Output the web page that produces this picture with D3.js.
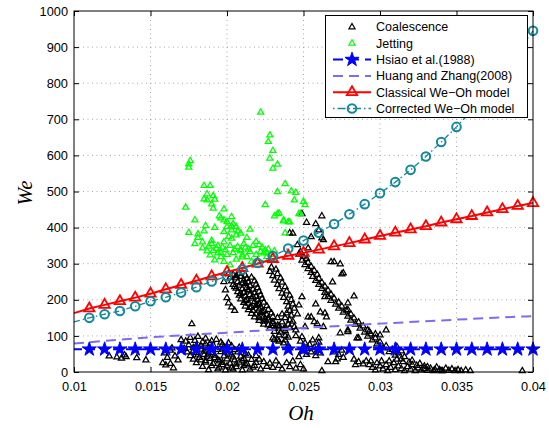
<!DOCTYPE html>
<html>
<head>
<meta charset="utf-8">
<script src="https://cdn.jsdelivr.net/npm/d3@7"></script>
<style>
  html, body { margin: 0; padding: 0; background: #fff; }
  svg { display: block; }
</style>
</head>
<body>
<svg id="chart" width="549" height="428"></svg>
<script>
// ---- axis ticks ----
const xTicks = [0.01, 0.015, 0.02, 0.025, 0.03, 0.035, 0.04];
const xTickLabels = ["0.01", "0.015", "0.02", "0.025", "0.03", "0.035", "0.04"];
const yTicks = [0, 100, 200, 300, 400, 500, 600, 700, 800, 900, 1000];
const yTickLabels = ["0", "100", "200", "300", "400", "500", "600", "700", "800", "900", "1000"];

// ---- model curves (sampled on the Oh grid) ----
const modelOh = [0.010, 0.011, 0.012, 0.013, 0.014, 0.015, 0.016, 0.017, 0.018, 0.019,
                 0.020, 0.021, 0.022, 0.023, 0.024, 0.025, 0.026, 0.027, 0.028, 0.029,
                 0.030, 0.031, 0.032, 0.033, 0.034, 0.035, 0.036, 0.037, 0.038, 0.039, 0.040];
const hsiaoWe = [63, 63, 63, 63, 63, 63, 63, 63, 63, 63,
                 63, 63, 63, 63, 63, 63, 63, 63, 63, 63,
                 63, 63, 63, 63, 63, 63, 63, 63, 63, 63, 63];
const classicalWe = [163, 176, 186, 196, 206, 217, 229, 241, 253, 265,
                     277, 288, 300, 313, 322, 330, 339, 348, 357, 367,
                     377, 386, 395, 404, 414, 423, 432, 442, 451, 460, 468];
const correctedWe = [139, 150, 160, 169, 182, 196, 207, 220, 235, 251,
                     266, 284, 302, 321, 342, 364, 386, 410, 437, 465,
                     495, 526, 560, 597, 637, 679, 725, 775, 828, 885, 945];
const huangOh = [0.010, 0.015, 0.020, 0.025, 0.030, 0.035, 0.040];
const huangWe = [79, 96, 109, 122, 134, 145, 155];

// ---- experimental points: [Oh, We] ----
const coalescence = [
  // main dense cluster below the classical curve
  [0.0201,272],[0.0204,270],[0.0208,273],[0.0212,268],
  [0.0202,262],[0.0206,260],[0.0209,264],[0.0213,259],[0.0216,262],
  [0.0203,252],[0.0207,250],[0.0211,254],[0.0214,249],[0.0218,252],
  [0.0204,242],[0.0208,240],[0.0212,244],[0.0215,239],[0.0219,243],
  [0.0206,232],[0.0210,230],[0.0213,234],[0.0217,229],[0.0220,233],
  [0.0207,222],[0.0211,220],[0.0214,224],[0.0218,219],[0.0221,223],
  [0.0208,212],[0.0212,210],[0.0215,214],[0.0219,209],[0.0222,213],
  [0.0209,202],[0.0213,200],[0.0216,204],[0.0220,199],[0.0223,203],
  [0.0211,192],[0.0214,190],[0.0218,194],[0.0221,189],[0.0224,193],
  [0.0212,182],[0.0216,180],[0.0219,184],[0.0222,179],[0.0226,183],
  [0.0214,172],[0.0217,170],[0.0221,174],[0.0224,169],[0.0227,173],
  [0.0216,162],[0.0219,160],[0.0222,164],[0.0226,159],[0.0229,163],
  [0.0218,152],[0.0221,150],[0.0224,154],[0.0227,149],[0.0230,153],
  [0.0221,142],[0.0224,140],[0.0227,144],[0.0230,139],
  [0.0224,132],[0.0227,130],[0.0230,134],[0.0233,129],
  [0.0228,122],[0.0231,120],[0.0234,124],[0.0237,119],
  [0.0231,112],[0.0235,110],[0.0238,114],
  [0.0234,102],[0.0238,100],
  [0.0199,227],[0.0200,205],[0.0201,191],[0.0203,180],[0.0198,250],[0.0205,170],
  [0.0206,266],[0.0210,246],[0.0214,228],[0.0217,208],[0.0220,186],[0.0223,167],
  [0.0225,146],[0.0229,128],[0.0205,236],[0.0209,217],[0.0212,197],[0.0215,178],
  // second band
  [0.0229,290],[0.0232,284],[0.0228,278],[0.0233,272],[0.0230,266],[0.0235,260],
  [0.0231,254],[0.0236,248],[0.0233,242],[0.0238,236],[0.0234,230],[0.0239,224],
  [0.0236,218],[0.0241,212],[0.0237,206],[0.0242,200],[0.0239,194],[0.0243,188],
  [0.0240,182],[0.0244,176],[0.0241,170],[0.0239,163],[0.0242,157],[0.0238,150],
  [0.0241,144],[0.0236,138],[0.0240,132],[0.0234,128],[0.0238,122],[0.0243,140],
  [0.0246,160],[0.0247,185],[0.0236,160],[0.0233,150],
  // long band down to Oh ~ 0.034
  [0.0247,326],[0.0250,320],[0.0252,314],[0.0249,309],[0.0253,303],[0.0251,297],
  [0.0255,292],[0.0253,286],[0.0257,281],[0.0255,275],[0.0259,270],[0.0256,264],
  [0.0260,259],[0.0258,253],[0.0262,248],[0.0260,242],[0.0264,237],[0.0262,231],
  [0.0266,226],[0.0264,220],[0.0268,215],[0.0266,209],[0.0270,204],[0.0268,198],
  [0.0273,193],[0.0271,187],[0.0275,182],[0.0273,176],[0.0278,171],[0.0276,165],
  [0.0281,160],[0.0279,154],[0.0283,149],[0.0281,143],[0.0286,138],[0.0284,132],
  [0.0289,127],[0.0287,121],[0.0292,116],[0.0290,110],[0.0294,105],[0.0292,99],
  [0.0297,94],[0.0295,88],[0.0300,83],[0.0298,77],[0.0304,72],[0.0302,66],
  [0.0308,62],[0.0306,56],[0.0312,52],[0.0310,46],[0.0316,42],[0.0314,36],
  [0.0321,32],[0.0319,27],[0.0326,23],[0.0324,18],[0.0331,14],[0.0329,9],
  [0.0336,6],[0.0340,3],
  // scattered points around the bands
  [0.0249,208],[0.0253,152],[0.0258,188],[0.0257,139],[0.0261,166],[0.0274,108],
  [0.0279,116],[0.0286,94],[0.0300,102],[0.0304,116],[0.0255,152],[0.0264,163],
  [0.0265,152],[0.0245,116],[0.0249,97],[0.0279,111],[0.0285,94],[0.0268,305],
  [0.0274,299],[0.0276,274],[0.0269,249],[0.0264,208],[0.0279,191],[0.0279,172],
  [0.0263,125],[0.0283,210],[0.0275,271],[0.0270,305],
  [0.0241,385],[0.0249,438],[0.0252,414],[0.0258,410],[0.0262,432],[0.0260,393],
  [0.0262,371],[0.0255,374],[0.0263,366],[0.0243,384],[0.0246,352],[0.0248,333],
  [0.0253,343],
  [0.0241,122],[0.0244,125],[0.0251,125],[0.0259,133],[0.0240,96],[0.0245,100],
  [0.0231,90],[0.0234,85],[0.0260,94],
  // low-We cloud, left part
  [0.0123,44],[0.0128,41],[0.0131,38],[0.0134,42],[0.0133,47],[0.0141,39],
  [0.0147,33],[0.0158,25],[0.0160,19],[0.0163,23],[0.0165,11],[0.0159,52],
  [0.0163,60],[0.0166,44],[0.0161,40],[0.0170,89],[0.0177,133],[0.0168,33],
  [0.0164,66],
  // low-We cloud, dense part
  [0.0176,95],[0.0181,98],[0.0186,93],
  [0.0173,85],[0.0179,87],[0.0184,83],[0.0190,86],[0.0196,82],
  [0.0175,75],[0.0180,73],[0.0186,77],[0.0191,74],[0.0197,76],[0.0203,72],
  [0.0172,65],[0.0178,67],[0.0183,63],[0.0188,66],[0.0194,62],[0.0199,65],[0.0205,61],
  [0.0174,55],[0.0180,53],[0.0185,57],[0.0190,54],[0.0196,56],[0.0201,52],[0.0207,55],[0.0212,51],
  [0.0176,45],[0.0181,47],[0.0187,43],[0.0192,46],[0.0198,44],[0.0203,47],[0.0209,43],[0.0214,46],
  [0.0178,35],[0.0183,33],[0.0189,37],[0.0194,34],[0.0200,36],[0.0205,33],[0.0211,37],[0.0216,34],
  [0.0180,25],[0.0186,27],[0.0191,23],[0.0197,26],[0.0202,24],[0.0208,27],[0.0213,23],[0.0219,26],
  [0.0184,15],[0.0190,17],[0.0195,13],[0.0200,16],[0.0206,14],[0.0211,17],[0.0217,13],
  [0.0188,6],[0.0194,8],[0.0199,5],[0.0204,7],[0.0210,5],[0.0215,7],
  [0.0183,72],[0.0193,90],[0.0201,80],[0.0208,68],[0.0188,52],[0.0195,30],
  [0.0206,22],[0.0182,40],[0.0199,58],[0.0210,32],
  [0.0178,58],[0.0185,48],[0.0192,39],[0.0197,20],[0.0203,11],[0.0189,79],
  [0.0198,69],[0.0204,41],[0.0212,21],[0.0186,31],
  // low-We cloud, right part
  [0.0219,45],[0.0221,35],[0.0218,18],[0.0222,8],[0.0224,28],[0.0226,15],
  [0.0228,24],[0.0230,12],[0.0232,30],[0.0234,18],[0.0236,8],[0.0239,25],
  [0.0241,14],[0.0243,30],[0.0245,10],[0.0248,20],[0.0250,8],
  [0.0230,94],[0.0233,88],[0.0237,80],[0.0240,72],[0.0238,88],[0.0241,66],
  [0.0248,85],[0.0251,80],[0.0254,76],[0.0250,70],[0.0253,64],[0.0257,68],
  [0.0249,58],[0.0255,55],[0.0259,60],[0.0252,48],[0.0258,45],[0.0261,52],
  [0.0247,42],[0.0256,88],[0.0260,82],
  [0.0270,55],[0.0273,48],[0.0276,40],[0.0272,36],[0.0275,60],[0.0283,35],
  [0.0286,28],[0.0289,22],[0.0291,30],[0.0284,20],[0.0271,28],[0.0262,3],[0.0266,28],
  // bottom cluster towards large Oh
  [0.0293,20],[0.0295,12],[0.0297,5],[0.0298,25],[0.0300,16],[0.0302,8],
  [0.0304,20],[0.0305,3],[0.0307,12],[0.0309,25],[0.0310,6],[0.0312,16],
  [0.0314,9],[0.0315,28],[0.0316,3],[0.0318,14],[0.0320,7],[0.0321,20],
  [0.0323,3],[0.0325,11],[0.0327,5],[0.0329,16],[0.0331,4],[0.0333,10],
  [0.0335,3],[0.0337,13],[0.0339,6],[0.0341,3],[0.0343,10],[0.0345,4],
  [0.0347,8],[0.0349,3],[0.0351,6],[0.0353,3],[0.0356,5],[0.0359,3],
  [0.0393,3],[0.0311,35],[0.0306,30],[0.0301,30],[0.0294,30],
  [0.0311,70],[0.0314,58],[0.0293,112],[0.0297,105]
];

const jetting = [
  [0.0222,719],[0.0228,656],[0.0227,638],[0.0230,613],[0.0228,592],[0.0233,575],[0.0230,564],
  [0.0176,585],[0.0175,576],[0.0175,567],
  [0.0238,521],[0.0233,499],[0.0242,501],[0.0245,497],[0.0244,476],[0.0225,463],
  [0.0250,472],[0.0251,463],[0.0247,438],[0.0231,432],[0.0233,438],[0.0237,421],[0.0240,416],
  [0.0185,516],[0.0189,516],[0.0187,493],[0.0185,479],[0.0187,476],[0.0191,488],
  [0.0192,478],[0.0190,465],[0.0191,453],[0.0173,456],[0.0198,451],[0.0179,421],
  [0.0186,405],[0.0195,432],[0.0196,426],[0.0203,430],[0.0200,416],[0.0203,404],[0.0206,402],
  [0.0198,421],[0.0175,386],[0.0181,382],[0.0200,402],[0.0203,393],[0.0206,379],
  [0.0209,384],[0.0201,375],[0.0190,364],[0.0179,355],[0.0184,343],[0.0191,336],
  [0.0194,329],[0.0189,324],[0.0196,319],[0.0192,310],[0.0198,306],[0.0202,296],
  [0.0207,347],[0.0209,338],[0.0212,345],[0.0210,324],[0.0213,319],[0.0215,333],
  [0.0219,361],[0.0221,352],[0.0216,306],[0.0222,333],[0.0224,329],[0.0226,319],
  [0.0225,338],[0.0234,440],
  [0.0237,418],[0.0241,415],[0.0238,385],[0.0248,438],
  [0.0190,355],[0.0194,350],[0.0197,345],[0.0199,338],[0.0193,342],[0.0188,348],
  [0.0196,330],[0.0200,325],[0.0187,335],[0.0184,360],[0.0198,360],[0.0202,350],
  [0.0205,340],[0.0204,330],[0.0209,335],[0.0211,355],[0.0214,340],[0.0217,350],
  [0.0219,325],[0.0223,345],[0.0226,330],[0.0229,325],[0.0227,340],[0.0231,335],
  [0.0206,312],[0.0210,318],[0.0203,370],[0.0207,390],[0.0213,372],[0.0181,372],
  [0.0185,390],[0.0192,400],[0.0198,388],[0.0204,410],[0.0215,395]
];

const legendLabels = ["Coalescence", "Jetting", "Hsiao et al.(1988)", "Huang and Zhang(2008)",
                      "Classical We\u2212Oh model", "Corrected We\u2212Oh model"];

// ---- layout ----
const svg = d3.select("#chart");
const plotL = 74, plotR = 533, plotT = 11, plotB = 372;
const x = d3.scaleLinear().domain([0.01, 0.04]).range([plotL, plotR]);
const y = d3.scaleLinear().domain([0, 1000]).range([plotB, plotT]);

const COL = {
  coal: "#000000", jet: "#00ff00", hsiao: "#0000ff",
  huang: "#7b6cf0", classical: "#ff0000", corrected: "#12889a"
};
const tickFont = "'Liberation Sans', Arial, Helvetica, sans-serif";

// grid
const grid = svg.append("g").attr("stroke", "#a8a8a8").attr("stroke-width", 1)
  .attr("stroke-dasharray", "1,3.5");
grid.selectAll("line.gx").data(xTicks.slice(1, -1)).join("line")
  .attr("x1", d => x(d)).attr("x2", d => x(d)).attr("y1", plotT).attr("y2", plotB);
grid.selectAll("line.gy").data(yTicks.slice(1, -1)).join("line")
  .attr("x1", plotL).attr("x2", plotR).attr("y1", d => y(d)).attr("y2", d => y(d));

// axes with inward ticks on all four sides
function styleAxis(g) {
  g.select(".domain").remove();
  g.selectAll(".tick line").attr("stroke", "#000");
  g.selectAll(".tick text").attr("fill", "#000").style("font-family", tickFont).style("font-size", "12.8px");
}
svg.append("g").attr("transform", `translate(0,${plotB})`)
  .call(d3.axisBottom(x).tickValues(xTicks).tickFormat((d, i) => xTickLabels[i])
    .tickSizeInner(-5).tickSizeOuter(0).tickPadding(9.5))
  .call(styleAxis);
svg.append("g").attr("transform", `translate(0,${plotT})`)
  .call(d3.axisTop(x).tickValues(xTicks).tickFormat("").tickSizeInner(-5).tickSizeOuter(0))
  .call(styleAxis);
svg.append("g").attr("transform", `translate(${plotL},0)`)
  .call(d3.axisLeft(y).tickValues(yTicks).tickFormat((d, i) => yTickLabels[i])
    .tickSizeInner(-5).tickSizeOuter(0).tickPadding(6))
  .call(styleAxis);
svg.append("g").attr("transform", `translate(${plotR},0)`)
  .call(d3.axisRight(y).tickValues(yTicks).tickFormat("").tickSizeInner(-5).tickSizeOuter(0))
  .call(styleAxis);

// axis titles
svg.append("text").attr("transform", `translate(32,193) rotate(-90)`)
  .attr("text-anchor", "middle")
  .style("font-family", "'Liberation Serif', 'Times New Roman', serif")
  .style("font-style", "italic").style("font-size", "21px").text("We");
svg.append("text").attr("x", 301).attr("y", 420).attr("text-anchor", "middle")
  .style("font-family", "'Liberation Serif', 'Times New Roman', serif")
  .style("font-style", "italic").style("font-size", "21px").text("Oh");

// scatter
const smallTri = d3.symbol(d3.symbolTriangle, 16)();
function scatter(data, color) {
  svg.append("g").selectAll("path").data(data).join("path")
    .attr("d", smallTri)
    .attr("transform", d => `translate(${x(d[0])},${y(d[1])})`)
    .attr("fill", "none").attr("stroke", color).attr("stroke-width", 1.25);
}
scatter(coalescence, COL.coal);
scatter(jetting, COL.jet);

// model curves
const line = d3.line().x(d => x(d[0])).y(d => y(d[1]));
const hsiao = modelOh.map((o, i) => [o, hsiaoWe[i]]);
const huang = huangOh.map((o, i) => [o, huangWe[i]]);
const classical = modelOh.map((o, i) => [o, classicalWe[i]]);
const corrected = modelOh.map((o, i) => [o, correctedWe[i]]);
const marked = arr => arr.filter(d => d[0] > 0.0105);

const starPath = d3.symbol(d3.symbolStar, 62)();
const bigTri = d3.symbol(d3.symbolTriangle, 46)();

svg.append("path").datum(hsiao).attr("d", line).attr("fill", "none")
  .attr("stroke", COL.hsiao).attr("stroke-width", 2).attr("stroke-dasharray", "8,5");
svg.append("g").selectAll("path").data(marked(hsiao)).join("path")
  .attr("d", starPath).attr("transform", d => `translate(${x(d[0])},${y(d[1])})`)
  .attr("fill", COL.hsiao).attr("stroke", COL.hsiao).attr("stroke-width", 1);

svg.append("path").datum(huang).attr("d", line.curve(d3.curveMonotoneX)).attr("fill", "none")
  .attr("stroke", COL.huang).attr("stroke-width", 2).attr("stroke-dasharray", "10,6");
line.curve(d3.curveLinear);

svg.append("path").datum(classical).attr("d", line).attr("fill", "none")
  .attr("stroke", COL.classical).attr("stroke-width", 2);
svg.append("g").selectAll("path").data(marked(classical)).join("path")
  .attr("d", bigTri).attr("transform", d => `translate(${x(d[0])},${y(d[1])})`)
  .attr("fill", "none").attr("stroke", COL.classical).attr("stroke-width", 1.8);

svg.append("path").datum(corrected).attr("d", line).attr("fill", "none")
  .attr("stroke", COL.corrected).attr("stroke-width", 1.3).attr("stroke-dasharray", "6,3,1.5,3");
svg.append("g").selectAll("circle").data(marked(corrected)).join("circle")
  .attr("cx", d => x(d[0])).attr("cy", d => y(d[1])).attr("r", 4.3)
  .attr("fill", "none").attr("stroke", COL.corrected).attr("stroke-width", 2);

// frame
svg.append("rect").attr("x", plotL).attr("y", plotT).attr("width", plotR - plotL).attr("height", plotB - plotT)
  .attr("fill", "none").attr("stroke", "#000").attr("stroke-width", 1);

// legend
const lg = svg.append("g");
lg.append("rect").attr("x", 325.5).attr("y", 15.5).attr("width", 202).attr("height", 102)
  .attr("fill", "#fff").attr("stroke", "#000").attr("stroke-width", 1);
const rowY = i => 27 + i * 16.3;
const sx0 = 333, sx1 = 371, sxm = 352;
legendLabels.forEach((label, i) => {
  lg.append("text").attr("x", 376).attr("y", rowY(i)).attr("dy", "0.35em")
    .style("font-family", tickFont).style("font-size", "12.5px").attr("fill", "#000").text(label);
});
// sample glyphs
lg.append("path").attr("d", smallTri).attr("transform", `translate(${sxm},${rowY(0)})`)
  .attr("fill", "none").attr("stroke", COL.coal).attr("stroke-width", 1.25);
lg.append("path").attr("d", smallTri).attr("transform", `translate(${sxm},${rowY(1)})`)
  .attr("fill", "none").attr("stroke", COL.jet).attr("stroke-width", 1.25);
lg.append("line").attr("x1", sx0).attr("x2", sx1).attr("y1", rowY(2)).attr("y2", rowY(2))
  .attr("stroke", COL.hsiao).attr("stroke-width", 2).attr("stroke-dasharray", "10,6");
lg.append("path").attr("d", starPath).attr("transform", `translate(${sxm},${rowY(2)})`)
  .attr("fill", COL.hsiao).attr("stroke", COL.hsiao);
lg.append("line").attr("x1", sx0).attr("x2", sx1).attr("y1", rowY(3)).attr("y2", rowY(3))
  .attr("stroke", COL.huang).attr("stroke-width", 2).attr("stroke-dasharray", "10,6");
lg.append("line").attr("x1", sx0).attr("x2", sx1).attr("y1", rowY(4)).attr("y2", rowY(4))
  .attr("stroke", COL.classical).attr("stroke-width", 2);
lg.append("path").attr("d", bigTri).attr("transform", `translate(${sxm},${rowY(4)})`)
  .attr("fill", "none").attr("stroke", COL.classical).attr("stroke-width", 1.8);
lg.append("line").attr("x1", sx0).attr("x2", sx1).attr("y1", rowY(5)).attr("y2", rowY(5))
  .attr("stroke", COL.corrected).attr("stroke-width", 1.3).attr("stroke-dasharray", "1.5,3,8,3");
lg.append("circle").attr("cx", sxm).attr("cy", rowY(5)).attr("r", 4.3)
  .attr("fill", "none").attr("stroke", COL.corrected).attr("stroke-width", 2);
</script>
</body>
</html>
